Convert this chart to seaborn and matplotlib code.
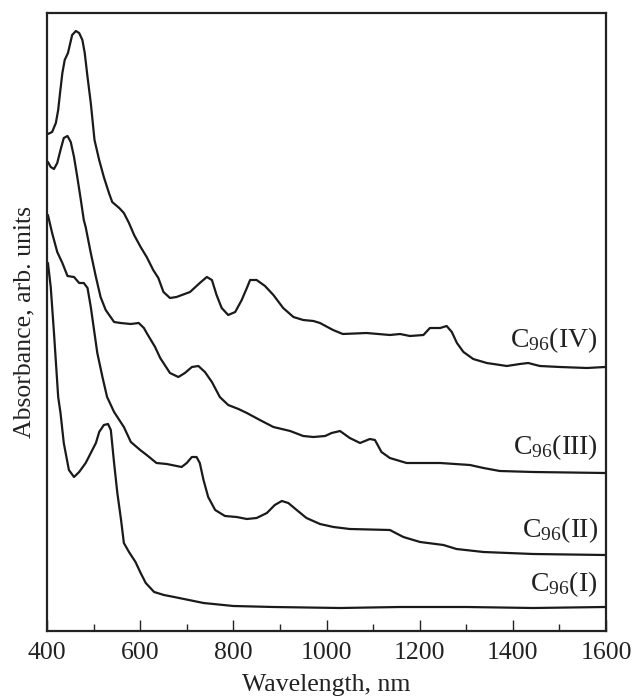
import matplotlib
matplotlib.use("Agg")
import matplotlib.pyplot as plt
from matplotlib.ticker import MultipleLocator
import seaborn as sns
import pandas as pd

# ---- data (wavelength in nm, absorbance in arbitrary units) ----
wl_IV = [402, 411, 419, 424, 428, 433, 438, 445, 449, 454, 462, 469, 476, 481, 487,
         494, 502, 512, 522, 533, 540, 555, 565, 576, 587, 601, 614, 628, 639, 650,
         664, 678, 707, 728, 743, 754, 764, 775, 789, 804, 818, 829, 836, 850, 868,
         886, 907, 929, 950, 972, 986, 1014, 1035, 1086, 1136, 1158, 1179, 1208, 1222,
         1244, 1258, 1269, 1280, 1294, 1315, 1344, 1387, 1415, 1433, 1458, 1501, 1559,
         1598]
ab_IV = [4.97, 4.99, 5.08, 5.21, 5.38, 5.58, 5.71, 5.78, 5.86, 5.96, 6.00, 5.98, 5.91,
         5.78, 5.54, 5.28, 4.91, 4.71, 4.54, 4.38, 4.29, 4.23, 4.18, 4.08, 3.96, 3.84,
         3.74, 3.61, 3.53, 3.39, 3.33, 3.34, 3.39, 3.48, 3.54, 3.51, 3.36, 3.23, 3.16,
         3.19, 3.31, 3.43, 3.51, 3.51, 3.45, 3.36, 3.23, 3.14, 3.11, 3.10, 3.08, 3.01,
         2.97, 2.98, 2.96, 2.97, 2.95, 2.96, 3.03, 3.03, 3.05, 2.99, 2.88, 2.79, 2.72,
         2.68, 2.65, 2.67, 2.68, 2.65, 2.64, 2.63, 2.64]

wl_III = [402, 408, 415, 422, 429, 436, 444, 451, 458, 465, 472, 479, 483, 494, 505,
          515, 526, 544, 558, 580, 597, 608, 614, 632, 643, 650, 664, 682, 696, 711,
          725, 739, 754, 771, 789, 811, 829, 857, 886, 922, 950, 972, 997, 1011, 1029,
          1050, 1072, 1093, 1104, 1118, 1136, 1172, 1244, 1308, 1337, 1372, 1444, 1598]
ab_III = [4.69, 4.64, 4.62, 4.68, 4.81, 4.93, 4.95, 4.89, 4.74, 4.54, 4.33, 4.11, 4.04,
          3.78, 3.54, 3.34, 3.21, 3.09, 3.08, 3.07, 3.08, 3.03, 2.98, 2.84, 2.73, 2.68,
          2.58, 2.54, 2.58, 2.64, 2.65, 2.59, 2.49, 2.34, 2.26, 2.22, 2.18, 2.11, 2.04,
          2.00, 1.95, 1.94, 1.95, 1.98, 2.00, 1.93, 1.88, 1.92, 1.91, 1.79, 1.73, 1.68,
          1.68, 1.66, 1.63, 1.60, 1.59, 1.58]

wl_II = [402, 411, 422, 433, 444, 458, 469, 479, 487, 494, 501, 508, 519, 529, 544,
         565, 580, 600, 614, 635, 657, 689, 700, 711, 721, 728, 736, 746, 761, 782,
         807, 829, 850, 872, 889, 904, 918, 936, 957, 986, 1015, 1050, 1136, 1165,
         1201, 1251, 1279, 1337, 1444, 1598]
ab_II = [4.16, 3.98, 3.79, 3.68, 3.55, 3.54, 3.48, 3.48, 3.43, 3.24, 3.01, 2.78, 2.54,
         2.34, 2.19, 2.04, 1.89, 1.81, 1.76, 1.68, 1.67, 1.64, 1.68, 1.74, 1.74, 1.68,
         1.51, 1.34, 1.21, 1.15, 1.14, 1.12, 1.13, 1.18, 1.26, 1.30, 1.28, 1.21, 1.13,
         1.07, 1.04, 1.02, 1.01, 0.94, 0.89, 0.86, 0.82, 0.79, 0.77, 0.76]

wl_I = [402, 408, 415, 424, 429, 436, 447, 458, 469, 483, 494, 505, 512, 522, 531,
        537, 544, 551, 559, 565, 576, 590, 601, 612, 630, 651, 673, 736, 800, 886,
        1029, 1158, 1301, 1444, 1598]
ab_I = [3.68, 3.44, 2.98, 2.34, 2.18, 1.88, 1.61, 1.54, 1.59, 1.68, 1.78, 1.88, 1.99,
        2.06, 2.07, 2.01, 1.68, 1.38, 1.11, 0.88, 0.79, 0.69, 0.58, 0.48, 0.39, 0.36,
        0.34, 0.28, 0.25, 0.24, 0.23, 0.24, 0.24, 0.23, 0.24]

labels = ["C$_{96}$(I)", "C$_{96}$(II)", "C$_{96}$(III)", "C$_{96}$(IV)"]
label_y = [0.40, 0.94, 1.77, 2.84]

x_ticks = [400, 600, 800, 1000, 1200, 1400, 1600]

# ---- style ----
sns.set_style("ticks")
plt.rcParams["font.family"] = ["Liberation Serif", "DejaVu Serif"]
plt.rcParams["mathtext.fontset"] = "custom"
plt.rcParams["mathtext.rm"] = "Liberation Serif"
plt.rcParams["mathtext.it"] = "Liberation Serif"
plt.rcParams["mathtext.default"] = "regular"

fig = plt.figure(figsize=(6.33, 6.98), dpi=100)
ax = fig.add_axes([47 / 633, 1 - 631 / 698, (606 - 47) / 633, (631 - 13) / 698])

series = [(wl_I, ab_I), (wl_II, ab_II), (wl_III, ab_III), (wl_IV, ab_IV)]
for (wl, ab) in series:
    df = pd.DataFrame({"wl": wl, "ab": ab})
    sns.lineplot(data=df, x="wl", y="ab", ax=ax, color="#1a1a1a", lw=1.6,
                 sort=False, estimator=None)

for lab, ly in zip(labels, label_y):
    ax.text(1582, ly, lab, ha="right", va="baseline", fontsize=20, color="#222222")

ax.set_xlim(400, 1600)
ax.set_ylim(0, 6.18)
ax.set_xticks(x_ticks)
ax.xaxis.set_minor_locator(MultipleLocator(100))
ax.set_yticks([])
ax.tick_params(axis="x", which="major", direction="in", length=8, width=1.0,
               labelsize=18.5, pad=8, colors="#222222")
ax.tick_params(axis="x", which="minor", direction="in", length=5, width=1.0)
ax.set_xlabel("Wavelength, nm", fontsize=18.5, labelpad=7, color="#222222")
ax.set_ylabel("Absorbance, arb. units", fontsize=18.5, labelpad=8, color="#222222")
for sp in ax.spines.values():
    sp.set_linewidth(1.6)
    sp.set_color("#222222")

fig.savefig("out.png", dpi=100)
